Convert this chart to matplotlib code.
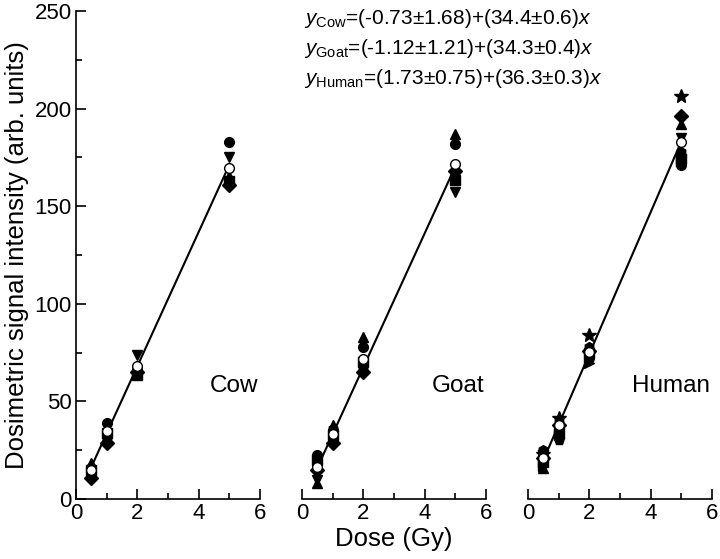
import matplotlib
matplotlib.use('Agg')
import matplotlib.pyplot as plt
from matplotlib.ticker import MultipleLocator

plt.rcParams['font.family'] = ['Liberation Sans', 'DejaVu Sans']
plt.rcParams['mathtext.fontset'] = 'custom'
plt.rcParams['mathtext.rm'] = 'Liberation Sans'
plt.rcParams['mathtext.it'] = 'Liberation Sans:italic'

# Datos
doses = [0.5, 1, 2, 5]

cow_markers = ['o', '^', 'v', 's', 'D', 'h']
cow_values = [
    [16, 38.8, 66, 183],
    [18.6, 36, 67, 165.5],
    [14, 33, 73.8, 175.3],
    [15, 34, 63.5, 163],
    [10.9, 28.8, 65, 161],
    [13, 32, 64, 161.5],
]
cow_mean = [14.9, 35, 68, 169.4]

goat_markers = ['o', '^', 'v', 's', 'D', 'h']
goat_values = [
    [22.5, 35, 77.7, 182],
    [8, 37.9, 83, 187],
    [9.7, 30, 66, 157.4],
    [20, 33, 70, 163.4],
    [15, 28.5, 65, 168],
    [17, 36, 67, 167.7],
]
goat_mean = [16.5, 33.3, 71.7, 171.6]

human_markers = ['*', 'D', '^', 'v', 'h', 'p', '>', 'o', 's']
human_values = [
    [23, 41.3, 84, 206.5],
    [21, 38, 76, 196.2],
    [15.7, 39, 78, 192],
    [18, 36, 73, 185],
    [25, 40, 78, 178],
    [24, 30.2, 74, 175],
    [17, 33, 69.5, 173],
    [22, 36, 72, 171],
    [19, 34, 75, 174],
]
human_mean = [20.8, 37.9, 75.5, 183]

species = ['Cow', 'Goat', 'Human']
intercepts = [-0.73, -1.12, 1.73]
slopes = [34.4, 34.3, 36.3]
fit_labels = [
    r'$y_{\mathrm{Cow}}$=(-0.73±1.68)+(34.4±0.6)$x$',
    r'$y_{\mathrm{Goat}}$=(-1.12±1.21)+(34.3±0.4)$x$',
    r'$y_{\mathrm{Human}}$=(1.73±0.75)+(36.3±0.3)$x$',
]

panels = [
    (cow_markers, cow_values, cow_mean),
    (goat_markers, goat_values, goat_mean),
    (human_markers, human_values, human_mean),
]

fs_tick = 16
fs_name = 17.5
fs_label = 18.5
fs_eq = 15

fig = plt.figure(figsize=(7.2, 5.59), dpi=100)
lefts = [0.1056, 0.4194, 0.7333]
axes = []
for i, left in enumerate(lefts):
    ax = fig.add_axes([left, 0.1073, 0.2556, 0.873])
    axes.append(ax)
    markers, values, mean = panels[i]

    x_line = [doses[0], doses[-1]]
    y_line = [intercepts[i] + slopes[i] * x for x in x_line]
    ax.plot(x_line, y_line, color='black', lw=1.5, zorder=1)

    for m, v in zip(markers, values):
        ms = 10 if m == '*' else 7
        ax.plot(doses, v, linestyle='none', marker=m, color='black', ms=ms, zorder=2)
    ax.plot(doses, mean, linestyle='none', marker='o', mfc='white', mec='black',
            mew=1.0, ms=7, zorder=3)

    ax.text(5.95, 58, species[i], ha='right', va='center', fontsize=fs_name)

    ax.set_xlim(0, 6)
    ax.set_ylim(0, 250)
    ax.xaxis.set_major_locator(MultipleLocator(2))
    ax.xaxis.set_minor_locator(MultipleLocator(1))
    ax.yaxis.set_major_locator(MultipleLocator(50))
    ax.yaxis.set_minor_locator(MultipleLocator(25))
    ax.tick_params(which='both', direction='in', labelsize=fs_tick, width=1.2)
    ax.tick_params(which='major', length=7, pad=3)
    ax.tick_params(which='minor', length=4)
    ax.spines['top'].set_visible(False)
    ax.spines['right'].set_visible(False)
    for s in ax.spines.values():
        s.set_linewidth(1.2)
    ax.patch.set_alpha(0)
    if i > 0:
        ax.spines['left'].set_visible(False)
        ax.tick_params(axis='y', which='both', left=False, labelleft=False)

axes[0].set_ylabel('Dosimetric signal intensity (arb. units)', fontsize=fs_label, labelpad=4)
axes[1].set_xlabel('Dose (Gy)', fontsize=fs_label, labelpad=2)

for j, lab in enumerate(fit_labels):
    fig.text(304 / 720, 1 - (19 + 29.5 * j) / 559, lab, fontsize=fs_eq, ha='left', va='center')

plt.savefig('out.png', dpi=100)
